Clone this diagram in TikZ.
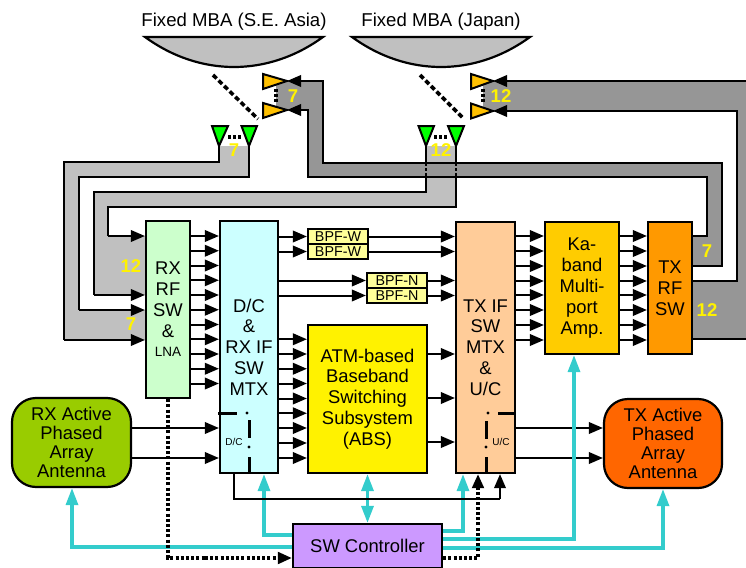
\documentclass[tikz,border=0pt]{standalone}
\usepackage{fontspec}
\setmainfont{Liberation Sans}
\usetikzlibrary{arrows.meta}
\definecolor{bandlight}{HTML}{C0C0C0}
\definecolor{banddark}{HTML}{969696}
\definecolor{ctl}{HTML}{33CCCC}
\definecolor{bpfy}{HTML}{FFFF99}
\definecolor{rxg}{HTML}{CCFFCC}
\definecolor{dcc}{HTML}{CCFFFF}
\definecolor{txif}{HTML}{FFCC99}
\definecolor{kaamp}{HTML}{FFCC00}
\definecolor{txrf}{HTML}{FF9900}
\definecolor{rxant}{HTML}{99CC00}
\definecolor{txant}{HTML}{FF6600}
\definecolor{swc}{HTML}{CC99FF}
\definecolor{feedorange}{HTML}{FFC000}
\tikzset{
  boxnode/.style={draw=black,line width=2.2pt,align=center,inner sep=0pt,
     font=\fontsize{18.4}{20.8}\selectfont},
  bpf/.style={draw=black,line width=2.2pt,fill=bpfy,inner sep=0pt,minimum width=60pt,minimum height=15pt,
     font=\fontsize{14.3}{15}\selectfont},
  arr/.style={draw=black,line width=2pt,-{Triangle[length=14pt,width=11.5pt]}},
  edgeline/.style={draw=black,line width=2pt,line join=miter},
  cy/.style={draw=ctl,line width=3.2pt,line join=miter,-{Triangle[length=17pt,width=12pt]}},
  cyd/.style={draw=ctl,line width=3.2pt,{Triangle[length=17pt,width=12pt]}-{Triangle[length=17pt,width=12pt]}},
  dotl/.style={draw=black,line width=3.2pt,dash pattern=on 3pt off 2.2pt},
  dotarr/.style={dotl,-{Triangle[length=14pt,width=11.5pt]}},
  yel/.style={text=yellow,font=\fontsize{18.5}{20}\selectfont\bfseries,inner sep=0pt},
  feedG/.style={draw=black,line width=2pt,fill=green,line join=miter},
  feedO/.style={draw=black,line width=2pt,fill=feedorange,line join=miter},
  dish/.style={draw=black,line width=2.2pt,fill=bandlight},
  subr/.style={draw=black,line width=3.6pt,dash pattern=on 5pt off 2.8pt},
  tick/.style={draw=black,line width=3pt},
  smalltxt/.style={font=\fontsize{10}{11}\selectfont,inner sep=0pt},
  headtxt/.style={font=\fontsize{18.6}{20}\selectfont,inner sep=0pt},
}
\begin{document}
\begin{tikzpicture}[x=1pt,y=-1pt]
\useasboundingbox (0,0) rectangle (746,567);
\clip (0,0) rectangle (746,567);
% feed points
\coordinate (g1) at (219,146); \coordinate (g2) at (249,146);
\coordinate (g3) at (426,146); \coordinate (g4) at (456,146);
\coordinate (o1) at (287,81);  \coordinate (o2) at (287,110);
\coordinate (o3) at (493,81);  \coordinate (o4) at (493,111);
% blocks
\node[boxnode,minimum width=44pt,minimum height=177pt,fill=rxg] (rx) at (168,309.5) {RX\\RF\\SW\\\&\\[-1pt]{\fontsize{13.5}{15}\selectfont LNA}};
\node[boxnode,minimum width=58pt,minimum height=252pt,fill=dcc] (dc) at (249,347) {D/C\\\&\\RX IF\\SW\\MTX};
\node[boxnode,minimum width=59pt,minimum height=251pt,fill=txif] (tx) at (485.5,347.5) {TX IF\\SW\\MTX\\\&\\U/C};
\node[boxnode,minimum width=74pt,minimum height=132pt,fill=kaamp] (ka) at (582,288) {Ka-\\band\\Multi-\\port\\Amp.};
\node[boxnode,minimum width=44pt,minimum height=132pt,fill=txrf] (rf) at (670,288) {TX\\RF\\SW};
\node[boxnode,minimum width=119pt,minimum height=148pt,fill=yellow] (abs) at (367.5,399) {ATM-based\\Baseband\\Switching\\Subsystem\\(ABS)};
\node[bpf] (w1) at (338,236.5) {BPF-W};
\node[bpf] (w2) at (338,251.5) {BPF-W};
\node[bpf] (n1) at (397,280.5) {BPF-N};
\node[bpf] (n2) at (397,295.5) {BPF-N};
\node[boxnode,minimum width=119pt,minimum height=89pt,rounded corners=24pt,fill=rxant,font=\fontsize{18.4}{19}\selectfont] (ra) at (71.5,442.5) {RX Active\\Phased\\Array\\Antenna};
\node[boxnode,minimum width=118pt,minimum height=89pt,rounded corners=24pt,fill=txant,font=\fontsize{18.4}{19}\selectfont] (ta) at (663,443.5) {TX Active\\Phased\\Array\\Antenna};
\node[boxnode,minimum width=149pt,minimum height=44pt,fill=swc] (sw) at (367.5,546) {SW Controller};
% dishes
\draw[dish] (145,37) .. controls (200,77) and (268,77) .. (323,37) -- cycle;
\draw[dish] (352,37) .. controls (407,77) and (475,77) .. (530,37) -- cycle;
\node[headtxt] (t1) at (234,22) {Fixed MBA (S.E. Asia)};
\node[headtxt] (t2) at (441,22) {Fixed MBA (Japan)};
\draw[subr] (213,75) -- (258,119);
\draw[subr] (420,75) -- (464,119);
% RX bands
\fill[bandlight] (g3) |- (94,192) |- (rx.west |- 0,295) -- (rx.west |- 0,236) -| (108,207) -| (g4) -- cycle;
\fill[bandlight] (g1) |- (64,162) |- (rx.west |- 0,340) -- (rx.west |- 0,310) -| (79,177) -| (g2) -- cycle;
\draw[edgeline] (g1) |- (64,162) -- (64,340);
\draw[arr] (64,340) -- (rx.west |- 0,340);
\draw[edgeline] (g2) |- (79,177) -- (79,310);
\draw[arr] (79,310) -- (rx.west |- 0,310);
\draw[edgeline] (g3) |- (94,192) -- (94,295);
\draw[arr] (94,295) -- (rx.west |- 0,295);
\draw[edgeline] (g4) |- (108,207) -- (108,236);
\draw[arr] (108,236) -- (rx.west |- 0,236);
% TX bands
\fill[banddark] (276,81) -- (o1) -- (323,81) -- (323,163) -- (722,163) -- (722,266) -- (rf.east |- 0,266) -- (rf.east |- 0,236) -- (707,236) -- (707,177) -- (308,177) -- (308,110) -- (276,110) -- cycle;
\fill[banddark] (483,81) -- (760,81) -- (760,339) -- (rf.east |- 0,339) -- (rf.east |- 0,281) -- (737,281) -- (737,111) -- (483,111) -- cycle;
\draw[edgeline] (rf.east |- 0,236) -| (707,177) -| (308,130);
\draw[arr] (308,130) |- (o2);
\draw[edgeline] (rf.east |- 0,266) -| (722,163) -| (323,100);
\draw[arr] (323,100) |- (o1);
\draw[edgeline] (rf.east |- 0,281) -| (737,111) -- (510,111);
\draw[arr] (510,111) -- (o4);
\draw[edgeline] (rf.east |- 0,339) -- (760,339);
\draw[edgeline] (760,81) -- (510,81);
\draw[arr] (510,81) -- (o3);
% crossing of RX 12 band under TX 7 band
\draw[dotl,line width=2.4pt] (426,163) -- (426,177);
\draw[dotl,line width=2.4pt] (456,163) -- (456,177);
% feeds
\draw[feedG] (212,126) -- (228,126) -- (g1) -- cycle;
\draw[feedG] (241.5,126) -- (257,126) -- (g2) -- cycle;
\draw[feedG] (418.5,126) -- (434,126) -- (g3) -- cycle;
\draw[feedG] (448,126) -- (464,126) -- (g4) -- cycle;
\draw[feedO] (263,74) -- (263,89) -- (o1) -- cycle;
\draw[feedO] (263,103) -- (263,118) -- (o2) -- cycle;
\draw[feedO] (471,74) -- (471,89) -- (o3) -- cycle;
\draw[feedO] (471,103.5) -- (471,118.5) -- (o4) -- cycle;
\draw[dotl] (228,137) -- (242,137);
\draw[dotl] (434,137) -- (448,137);
\draw[dotl] (276,89) -- (276,103);
\draw[dotl] (483,89) -- (483,104);
% band labels
\node[yel] (l1) at (234,150) {7};
\node[yel] (l2) at (441,150) {12};
\node[yel] (l3) at (293,96) {7};
\node[yel] (l4) at (501,96) {12};
\node[yel] (l5) at (131,266) {12};
\node[yel] (l6) at (131,324) {7};
\node[yel] (l7) at (707,251) {7};
\node[yel] (l8) at (707,310) {12};
% signal arrows
\foreach \y in {236,250.75,265.5,280.25,295,309.75,324.5,339.25,354,368.75,383.5}
  \draw[arr] (rx.east |- 0,\y) -- (dc.west |- 0,\y);
\foreach \y in {428,458}
  \draw[arr] (ra.east |- 0,\y) -- (dc.west |- 0,\y);
\foreach \y in {339.25,354,368.75,383.5,398.5,413.25,428,443,458}
  \draw[arr] (dc.east |- 0,\y) -- (abs.west |- 0,\y);
\foreach \y/\n in {236.5/w1,251.5/w2}{
  \draw[arr] (dc.east |- 0,\y) -- (\n.west);
  \draw[arr] (\n.east) -- (tx.west |- 0,\y);}
\foreach \y/\n in {280.5/n1,295.5/n2}{
  \draw[arr] (dc.east |- 0,\y) -- (\n.west);
  \draw[arr] (\n.east) -- (tx.west |- 0,\y);}
\foreach \y in {354,398,442}
  \draw[arr] (abs.east |- 0,\y) -- (tx.west |- 0,\y);
\foreach \y in {236,251,266,281,295,310,325,340}{
  \draw[arr] (tx.east |- 0,\y) -- (ka.west |- 0,\y);
  \draw[arr] (ka.east |- 0,\y) -- (rf.west |- 0,\y);}
\foreach \y in {428,458}
  \draw[arr] (tx.east |- 0,\y) -- (ta.west |- 0,\y);
% control lines
\coordinate (c1) at (72,547);
\coordinate (c2) at (264,535);
\coordinate (c3) at (463,531);
\coordinate (c4) at (574,539);
\coordinate (c5) at (663,548);
\draw[cy] (sw.west |- c1) -| (ra.south -| c1);
\draw[cy] (sw.west |- c2) -| (dc.south -| c2);
\draw[cy] (sw.east |- c3) -| (tx.south -| c3);
\draw[cy] (sw.east |- c4) -| (ka.south -| c4);
\draw[cy] (sw.east |- c5) -| (ta.south -| c5);
\draw[cyd] (abs.south) -- (sw.north);
% LO line
\coordinate (lo1) at (234,499);
\coordinate (lo2) at (500,499);
\draw[edgeline] (dc.south -| lo1) -- (lo1) -- (lo2);
\draw[arr] (lo2) -- (tx.south -| lo2);
% dotted control lines
\coordinate (d1) at (168,558);
\coordinate (d2) at (478,558);
\draw[dotl] (rx.south) -- (d1) -- (205,558);
\draw[dotarr] (205,558) -- (sw.west |- d1);
\draw[dotl] (sw.east |- d2) -- (d2) -- (478,500);
\draw[dotarr] (478,500) -- (tx.south -| d2);
% internal switch marks
\draw[tick] (218,413) -- (237,413);
\fill (247,413) circle (1.7pt);
\draw[tick] (249,420) -- (249,438);
\fill (249,447) circle (1.7pt);
\draw[tick] (249,457) -- (249,473);
\node[smalltxt] (dcl) at (234,442) {D/C};
\draw[tick] (498,413) -- (515,413);
\fill (488,413) circle (1.7pt);
\draw[tick] (486,421) -- (486,439);
\fill (486,447) circle (1.7pt);
\draw[tick] (486,457) -- (486,473);
\node[smalltxt] (ucl) at (501,442) {U/C};
\end{tikzpicture}
\end{document}
